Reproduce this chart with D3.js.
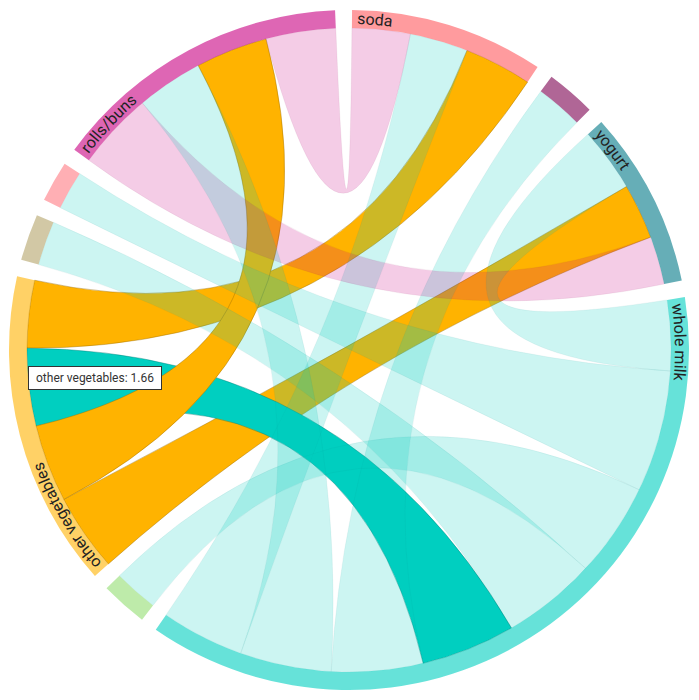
<!DOCTYPE html>
<html>
<head>
<meta charset="utf-8">
<script src="https://cdn.jsdelivr.net/npm/d3@7.9.0/dist/d3.min.js"></script>
<style>
  body { margin: 0; background: #fff; font-family: Roboto, "Noto Sans", sans-serif; }
  #wrap { position: relative; width: 699px; height: 700px; }
  .tip { position: absolute; left: 28px; top: 366px; background: #fff; border: 1px solid #333;
         font-size: 12px; padding: 4px 7px; color: #333; white-space: nowrap; }
</style>
</head>
<body>
<div id="wrap">
  <svg id="chord" width="699" height="700"></svg>
  <div class="tip">other vegetables: 1.66</div>
</div>
<script>
// groups, clockwise from the top
const groups = ["soda", "tropical fruit", "yogurt", "whole milk", "bottled water",
                "other vegetables", "root vegetables", "pastry", "rolls/buns"];
const colors = ["#ff585e", "#7b0050", "#007887", "#00cfc0", "#93de71",
                "#ffb300", "#b4a369", "#ff7a82", "#c80082"];

// matrix[i][j] = share of group i that goes to group j (not symmetric)
const matrix = [
  [0,    0,    0,    10.5, 0,    12.2, 0,    0,    10.5],
  [0,    0,    0,    8.5,  0,    0,    0,    0,    0   ],
  [0,    0,    0,    11.6, 0,    10.0, 0,    0,    8.7 ],
  [15.0, 16.5, 12.7, 0,    17.0, 17.0, 17.0, 22.0, 16.5],
  [0,    0,    0,    8.0,  0,    0,    0,    0,    0   ],
  [12.2, 0,    14.0, 14.0, 0,    0,    0,    0,    14.0],
  [0,    0,    0,    8.0,  0,    0,    0,    0,    0   ],
  [0,    0,    0,    7.0,  0,    0,    0,    0,    0   ],
  [12.6, 0,    14.0, 12.0, 0,    13.0, 0,    0,    0   ]
];

// order of the partners inside each group, clockwise
const subOrder = [
  [8, 3, 5],
  [3],
  [3, 5, 8],
  [2, 7, 4, 6, 5, 1, 8, 0],
  [3],
  [2, 8, 3, 0],
  [3],
  [3],
  [2, 3, 5, 0]
];

const highlight = 5;

const width = 699, height = 700;
const cx = 349, cy = 350;
const outerR = 340, innerR = 322;
const pad = 0.05;
const startOffset = 0.009;

const totals = matrix.map(row => d3.sum(row));
const k = (2 * Math.PI - pad * groups.length) / d3.sum(totals);

// lay out groups and subgroups
const groupArcs = [];
const sub = groups.map(() => ({}));
let a = startOffset;
groups.forEach((name, i) => {
  const g = { index: i, startAngle: a };
  subOrder[i].forEach(j => {
    const w = matrix[i][j] * k;
    sub[i][j] = { startAngle: a, endAngle: a + w };
    a += w;
  });
  g.endAngle = a;
  groupArcs.push(g);
  a += pad;
});

const chords = [];
for (let i = 0; i < groups.length; i++) {
  for (let j = i + 1; j < groups.length; j++) {
    if (matrix[i][j] > 0 && matrix[j][i] > 0) {
      chords.push({ source: sub[i][j], target: sub[j][i],
        colorIndex: totals[i] >= totals[j] ? i : j,
        hot: i === highlight || j === highlight });
    }
  }
}

const svg = d3.select("#chord");
const g = svg.append("g").attr("transform", `translate(${cx},${cy})`);

const ribbon = d3.ribbon().radius(innerR);
const arc = d3.arc().innerRadius(innerR).outerRadius(outerR);

// highlighted ribbons below, faded ones drawn on top
const ordered = chords.filter(c => c.hot).concat(chords.filter(c => !c.hot));
g.append("g").selectAll("path")
  .data(ordered)
  .join("path")
  .attr("d", ribbon)
  .attr("fill", d => colors[d.colorIndex])
  .attr("fill-opacity", d => d.hot ? 1 : 0.2)
  .attr("stroke", d => d3.color(colors[d.colorIndex]).darker(1.5))
  .attr("stroke-opacity", d => d.hot ? 0.5 : 0.08)
  .attr("stroke-width", 0.8);

const ga = g.append("g").selectAll("g")
  .data(groupArcs)
  .join("g");

ga.append("path")
  .attr("id", d => "grp" + d.index)
  .attr("d", arc)
  .attr("fill", d => colors[d.index])
  .attr("fill-opacity", 0.6);

// label path: circle of baseline radius, clockwise
ga.append("path")
  .attr("id", d => "lbl" + d.index)
  .attr("fill", "none")
  .attr("d", d => {
    const r = innerR + 4;
    const a0 = d.startAngle, a1 = d.endAngle;
    const p0 = [r * Math.sin(a0), -r * Math.cos(a0)];
    const p1 = [r * Math.sin(a1), -r * Math.cos(a1)];
    const large = a1 - a0 > Math.PI ? 1 : 0;
    return `M${p0[0]},${p0[1]} A${r},${r} 0 ${large} 1 ${p1[0]},${p1[1]}`;
  });

ga.filter(d => (d.endAngle - d.startAngle) > 0.35)
  .append("text")
  .attr("font-size", 16)
  .attr("fill", "#222")
  .append("textPath")
  .attr("href", d => "#lbl" + d.index)
  .attr("startOffset", 5)
  .text(d => groups[d.index]);
</script>
</body>
</html>
